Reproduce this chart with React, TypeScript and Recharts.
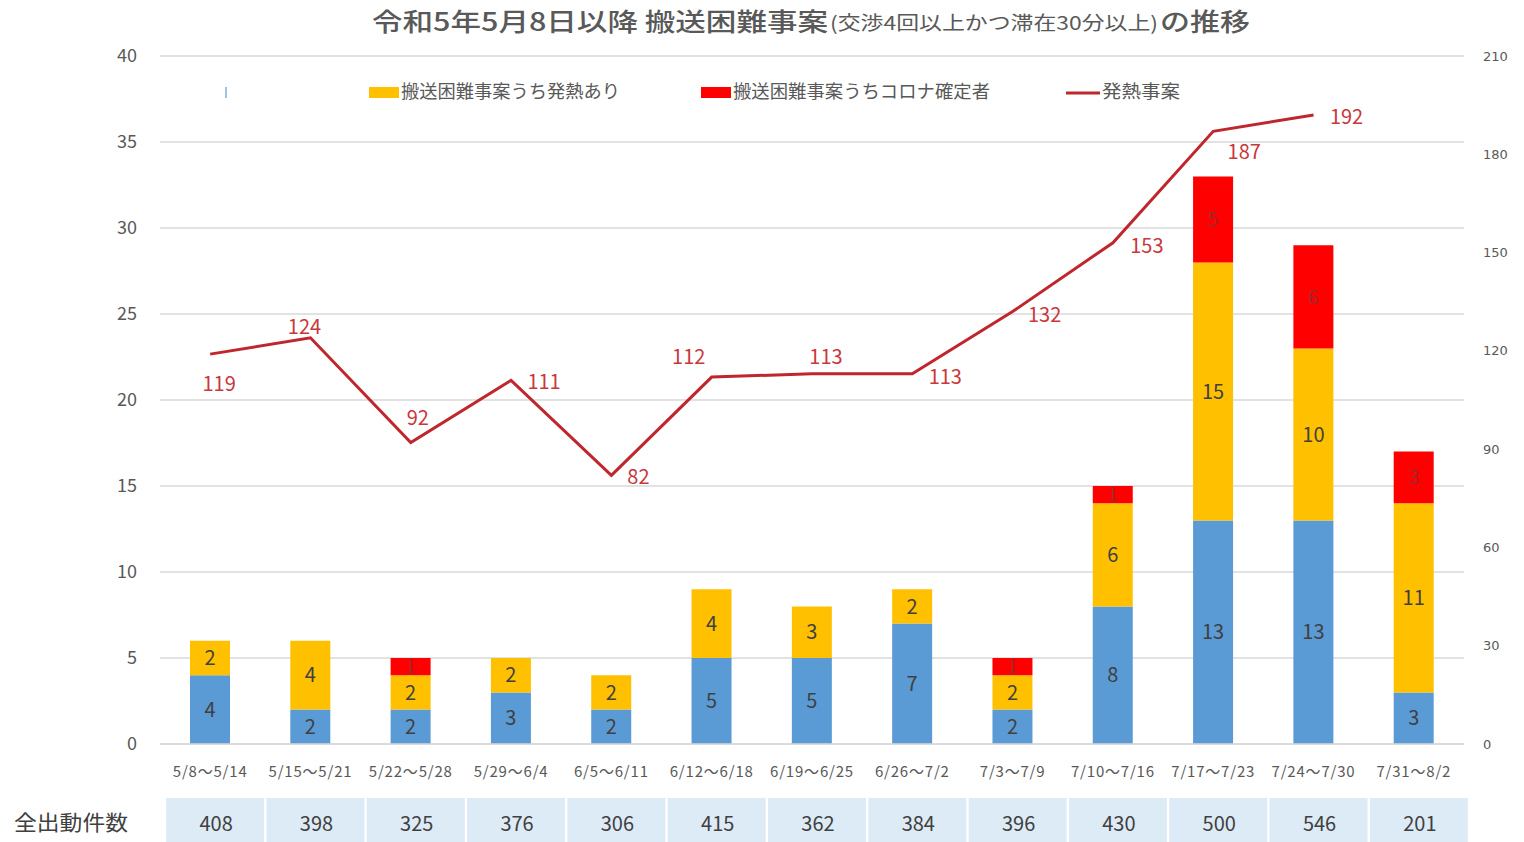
import React from 'react';
import {
  ComposedChart,
  Bar,
  Line,
  XAxis,
  YAxis,
  CartesianGrid,
  LabelList,
} from 'recharts';

const categories = [
  '5/8～5/14', '5/15～5/21', '5/22～5/28', '5/29～6/4', '6/5～6/11', '6/12～6/18',
  '6/19～6/25', '6/26～7/2', '7/3～7/9', '7/10～7/16', '7/17～7/23', '7/24～7/30', '7/31～8/2',
];
const difficultOther = [4, 2, 2, 3, 2, 5, 5, 7, 2, 8, 13, 13, 3];
const difficultFever = [2, 4, 2, 2, 2, 4, 3, 2, 2, 6, 15, 10, 11];
const difficultCorona = [null, null, 1, null, null, null, null, null, 1, 1, 5, 6, 3];
const feverCases = [119, 124, 92, 111, 82, 112, 113, 113, 132, 153, 187, 192, null];
const totalDispatch = [408, 398, 325, 376, 306, 415, 362, 384, 396, 430, 500, 546, 201];
const leftTicks = [0, 5, 10, 15, 20, 25, 30, 35, 40];
const rightTicks = [0, 30, 60, 90, 120, 150, 180, 210];

const data = categories.map((name, i) => ({
  name,
  other: difficultOther[i],
  fever: difficultFever[i],
  corona: difficultCorona[i],
  feverCases: feverCases[i],
  total: totalDispatch[i],
}));

const FONT = '"Noto Sans CJK JP", "Noto Sans", sans-serif';
const JP = '"Noto Sans CJK JP", sans-serif';

// label offsets for line value labels (style only)
const lineLabelOffsets: [number, number][] = [
  [9, 28], [-6, -12], [7, -26], [33, 0], [27, 0], [-23, -22], [14, -18],
  [33, 2], [32, 2], [34, 2], [31, 19], [33, 1],
];

const LineValueLabel = (props: any) => {
  const { x, y, index, value } = props;
  if (value == null || x == null || y == null) return null;
  const off = lineLabelOffsets[index] || [0, -14];
  return (
    <text
      x={x + off[0]}
      y={y + off[1]}
      textAnchor="middle"
      dominantBaseline="central"
      fontSize={20}
      fill="#C8383C"
      fontFamily={FONT}
    >
      {value}
    </text>
  );
};

const CategoryTick = (props: any) => {
  const { x, y, payload } = props;
  return (
    <text
      x={x}
      y={y + 8}
      textAnchor="middle"
      dominantBaseline="central"
      fontSize={15}
      fill="#595959"
      fontFamily={FONT}
      letterSpacing={0.8}
    >
      {payload.value}
    </text>
  );
};

const TableTick = (props: any) => {
  const { x, y, index } = props;
  return (
    <g>
      <rect x={x + 5 - 49} y={y} width={98} height={46} fill="#DDEBF7" />
      <text
        x={x + 6}
        y={y + 24}
        textAnchor="middle"
        dominantBaseline="central"
        fontSize={20}
        fill="#404040"
        fontFamily={FONT}
      >
        {totalDispatch[index]}
      </text>
    </g>
  );
};

const hideZero = (v: any) => (v ? v : '');

export default function App() {
  return (
    <div
      style={{
        position: 'absolute',
        left: 0,
        top: 0,
        width: 1524,
        height: 842,
        background: '#fff',
        overflow: 'hidden',
        fontFamily: FONT,
      }}
    >
      <ComposedChart
        width={1524}
        height={842}
        data={data}
        margin={{ top: 56, right: 0, bottom: 0, left: 100 }}
      >
        <CartesianGrid
          yAxisId="left"
          xAxisId="cat"
          vertical={false}
          stroke="#D9D9D9"
          strokeWidth={1.5}
        />
        <XAxis
          xAxisId="cat"
          dataKey="name"
          height={54}
          interval={0}
          tickLine={false}
          tickSize={0}
          tickMargin={18}
          axisLine={{ stroke: '#D9D9D9', strokeWidth: 1.5 }}
          tick={<CategoryTick />}
        />
        <XAxis
          xAxisId="tbl"
          dataKey="name"
          height={44}
          interval={0}
          tickLine={false}
          tickSize={0}
          tickMargin={0}
          axisLine={false}
          tick={<TableTick />}
        />
        <YAxis
          yAxisId="left"
          width={60}
          domain={[0, 40]}
          ticks={leftTicks}
          axisLine={false}
          tickLine={false}
          tickSize={0}
          tickMargin={23}
          tick={{ fontSize: 18, fill: '#595959', fontFamily: FONT }}
        />
        <YAxis
          yAxisId="right"
          orientation="right"
          width={60}
          domain={[0, 210]}
          ticks={rightTicks}
          axisLine={false}
          tickLine={false}
          tickSize={0}
          tickMargin={19}
          tick={{ fontSize: 13, fill: '#595959', fontFamily: '"DejaVu Sans", sans-serif' }}
        />
        <Bar
          xAxisId="cat"
          yAxisId="left"
          dataKey="other"
          stackId="a"
          fill="#5B9BD5"
          barSize={40}
          isAnimationActive={false}
        >
          <LabelList dataKey="other" position="center" fill="#404040" fontSize={20} formatter={hideZero} />
        </Bar>
        <Bar
          xAxisId="cat"
          yAxisId="left"
          dataKey="fever"
          stackId="a"
          fill="#FFC000"
          barSize={40}
          isAnimationActive={false}
        >
          <LabelList dataKey="fever" position="center" fill="#404040" fontSize={20} formatter={hideZero} />
        </Bar>
        <Bar
          xAxisId="cat"
          yAxisId="left"
          dataKey="corona"
          stackId="a"
          fill="#FF0000"
          barSize={40}
          isAnimationActive={false}
        >
          <LabelList dataKey="corona" position="center" fill="#A0282C" fontSize={19} formatter={hideZero} />
        </Bar>
        <Line
          xAxisId="cat"
          yAxisId="right"
          dataKey="feverCases"
          stroke="#C0262D"
          strokeWidth={3}
          dot={false}
          activeDot={false}
          connectNulls={false}
          isAnimationActive={false}
        >
          <LabelList dataKey="feverCases" content={<LineValueLabel />} />
        </Line>
      </ComposedChart>

      <svg
        width={1524}
        height={842}
        style={{ position: 'absolute', left: 0, top: 0, pointerEvents: 'none' }}
      >
        {/* Title */}
        <text x={372} y={31} fontSize={25} fontWeight={500} fill="#595959" fontFamily={JP} textLength={456} lengthAdjust="spacingAndGlyphs">
          令和5年5月8日以降 搬送困難事案
        </text>
        <text x={830} y={30} fontSize={19} fill="#595959" fontFamily={JP} textLength={328} lengthAdjust="spacingAndGlyphs">
          (交渉4回以上かつ滞在30分以上)
        </text>
        <text x={1160} y={31} fontSize={25} fontWeight={500} fill="#595959" fontFamily={JP} textLength={90} lengthAdjust="spacingAndGlyphs">
          の推移
        </text>

        {/* Legend */}
        <rect x={225} y={87} width={2} height={11} fill="#9DC3E6" />
        <rect x={369} y={87} width={30} height={11} fill="#FFC000" />
        <text x={401} y={98} fontSize={18} fill="#595959" fontFamily={JP} textLength={219} lengthAdjust="spacingAndGlyphs">
          搬送困難事案うち発熱あり
        </text>
        <rect x={701} y={87} width={30} height={11} fill="#FF0000" />
        <text x={733} y={98} fontSize={18} fill="#595959" fontFamily={JP} textLength={257} lengthAdjust="spacingAndGlyphs">
          搬送困難事案うちコロナ確定者
        </text>
        <line x1={1066} y1={93} x2={1100} y2={93} stroke="#C0262D" strokeWidth={3} />
        <text x={1102} y={98} fontSize={18} fill="#595959" fontFamily={JP} textLength={78} lengthAdjust="spacingAndGlyphs">
          発熱事案
        </text>

        {/* Table row label */}
        <text x={14} y={830} fontSize={21} fill="#404040" fontFamily={JP} textLength={114} lengthAdjust="spacingAndGlyphs">
          全出動件数
        </text>
      </svg>
    </div>
  );
}
